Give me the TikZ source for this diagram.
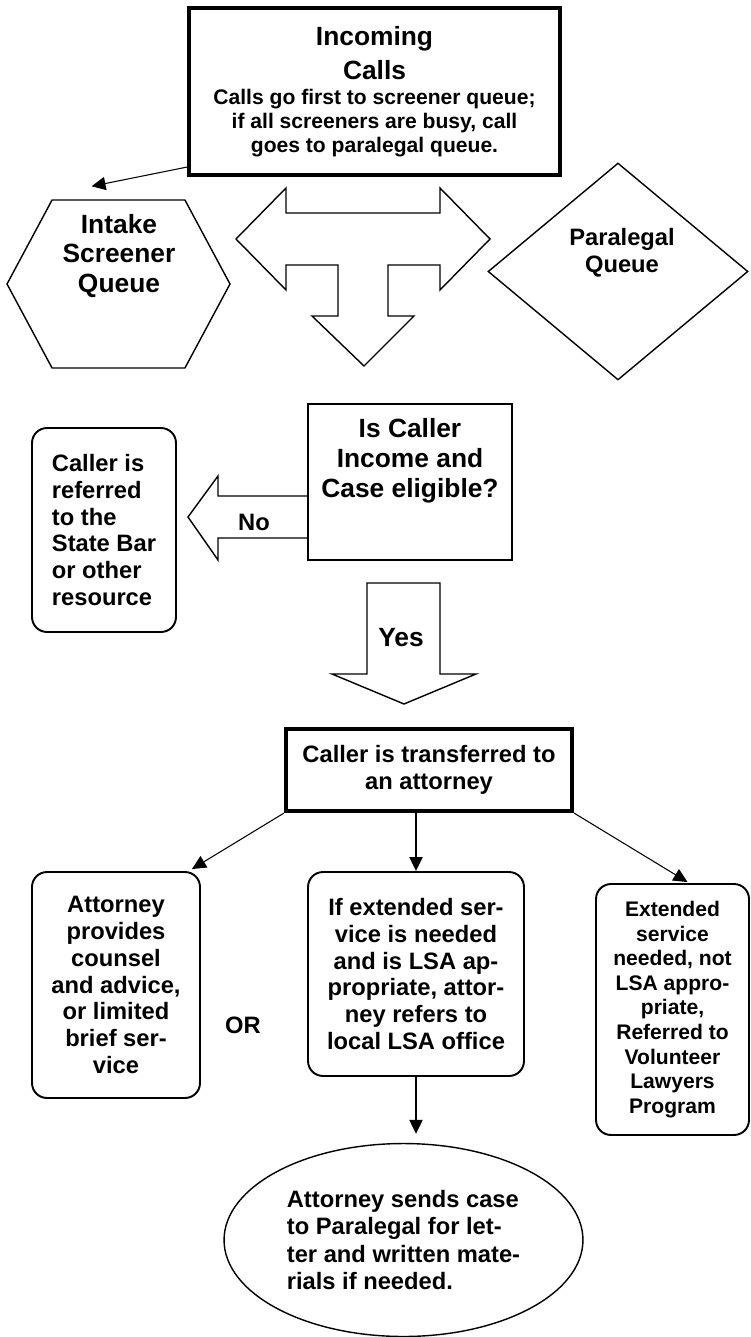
\documentclass[tikz,border=0pt]{standalone}
\usepackage{fontspec}
\setmainfont{Liberation Sans}
\usetikzlibrary{arrows.meta,shapes.geometric,shapes.symbols}

\newcommand{\ttlfont}{\fontsize{15pt}{18pt}\selectfont}

\begin{document}
\begin{tikzpicture}[x=0.02cm,y=-0.02cm,
  every node/.style={font=\bfseries\fontsize{13.5pt}{15.3pt}\selectfont, align=center, inner sep=0pt},
  heavybox/.style={draw, line width=2.4pt, rectangle},
  plainbox/.style={draw, line width=0.8pt, rectangle},
  roundbox/.style={draw, line width=1.1pt, rectangle, rounded corners=8.5pt},
  conn/.style={-{Triangle[length=8pt,width=7.5pt]}, line width=0.6pt},
  blockarrow/.style={draw, line width=0.8pt, line join=miter}]
\useasboundingbox (0,0) rectangle (750,1337);
% incoming calls and the two queues
\node[heavybox, minimum width=7.42cm, minimum height=3.34cm,
  font=\bfseries\fontsize{12pt}{13.6pt}\selectfont] (incoming) at (374.5,91.5)
  {\ttlfont Incoming\\[4.5pt]\ttlfont Calls\\[0.6pt]Calls go first to screener queue;\\if all screeners are busy, call\\goes to paralegal queue.};
\node[draw, line width=0.8pt, signal, signal to=west and east, signal pointer angle=123.6,
  minimum width=4.46cm, minimum height=3.36cm] (intake) at (118.5,284) {};
\node[font=\bfseries\fontsize{15pt}{17pt}\selectfont] (intaketxt) at (119,256) {Intake\\Screener\\Queue};
\node[draw, line width=0.8pt, diamond, minimum width=5.2cm, minimum height=4.34cm] (paraq) at (618,271.5) {};
\node (paraqtxt) at (622,253) {Paralegal\\Queue};
% T shaped block arrow
\draw[blockarrow] (236,239) -- (286,188) -- (286,213) -- (440,213) -- (440,188) -- (490,239)
  -- (440,290) -- (440,265) -- (388,265) -- (388,316) -- (414,316) -- (364,366)
  -- (312,316) -- (338,316) -- (338,265) -- (286,265) -- (286,290) -- cycle;
% eligibility check
\node[plainbox, minimum width=4.08cm, minimum height=3.12cm] (elig) at (410,482) {};
\node[font=\bfseries\fontsize{15pt}{17pt}\selectfont] (eligtxt) at (410,461) {Is Caller\\Income and\\Case eligible?};
\node[roundbox, minimum width=2.88cm, minimum height=4.08cm, align=left] (bar) at (104,530)
  {Caller is\\referred\\to the\\State Bar\\or other\\resource};
\draw[blockarrow] (308,496) -- (218,496) -- (218,476) -- (188,517) -- (218,560) -- (218,538) -- (308,538);
\node (no) at (254,522) {No};
\draw[blockarrow] (367,583) -- (440,583) -- (440,674) -- (476,674) -- (404,704) -- (332,674) -- (367,674) -- cycle;
\node[font=\bfseries\fontsize{15pt}{17pt}\selectfont] (yes) at (401,638) {Yes};
% attorney and outcomes
\node[heavybox, minimum width=5.72cm, minimum height=1.64cm] (trans) at (429,770) {Caller is transferred to\\an attorney};
\node[roundbox, minimum width=3.36cm, minimum height=4.52cm] (advice) at (116,985)
  {Attorney\\provides\\counsel\\and advice,\\or limited\\brief ser-\\vice};
\node (or) at (243,1025) {OR};
\node[roundbox, minimum width=4.32cm, minimum height=4.08cm] (lsa) at (416,974)
  {If extended ser-\\vice is needed\\and is LSA ap-\\propriate, attor-\\ney refers to\\local LSA office};
\node[roundbox, minimum width=3.06cm, minimum height=5.02cm, font=\bfseries\fontsize{12pt}{14pt}\selectfont] (vlp) at (672.5,1009.5)
  {Extended\\service\\needed, not\\LSA appro-\\priate,\\Referred to\\Volunteer\\Lawyers\\Program};
\node[draw, line width=0.8pt, ellipse, minimum width=7.18cm, minimum height=3.86cm, align=left,
  font=\bfseries\fontsize{13.5pt}{15.7pt}\selectfont] (brief) at (403.5,1240)
  {Attorney sends case\\to Paralegal for let-\\ter and written mate-\\rials if needed.};
% connectors
\draw[conn] ([yshift=0.2cm]incoming.south west) -- ([shift={(-27,-13)}]intake.north);
\draw[conn] (trans.south west) -- ([shift={(-9,-2)}]advice.north east);
\draw[conn, line width=1pt] (lsa.north |- trans.south) -- (lsa.north);
\draw[conn] (trans.south east) -- ([shift={(15,-1)}]vlp.north);
\draw[conn, line width=1pt, shorten >=0.18cm] (lsa.south) -- (lsa.south |- brief.north);
\end{tikzpicture}
\end{document}
